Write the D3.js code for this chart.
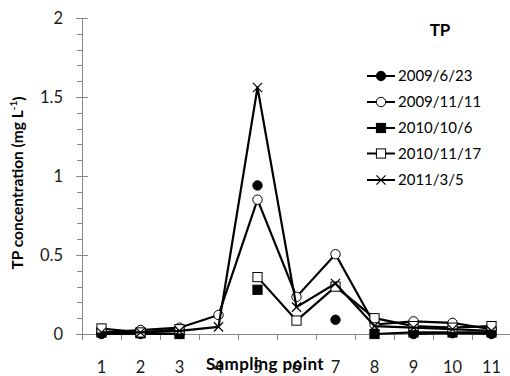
<!DOCTYPE html>
<html>
<head>
<meta charset="utf-8">
<script src="https://cdn.jsdelivr.net/npm/d3@7"></script>
<style>
  html, body { margin: 0; padding: 0; background: #fff; }
  svg { display: block; font-family: Lato, "Open Sans", sans-serif; }
</style>
</head>
<body>
<div id="chart"></div>
<script>
const categories = ["1", "2", "3", "4", "5", "6", "7", "8", "9", "10", "11"];
const seriesNames = ["2009/6/23", "2009/11/11", "2010/10/6", "2010/11/17", "2011/3/5"];
const s20090623 = [0.0, 0.0, 0.0, null, 0.94, null, 0.09, null, 0.0, 0.005, 0.0];
const s20091111 = [0.01, 0.025, 0.04, 0.12, 0.85, 0.235, 0.505, 0.06, 0.08, 0.07, 0.03];
const s20101006 = [0.01, 0.005, 0.0, null, 0.28, null, null, 0.0, 0.01, 0.01, 0.01];
const s20101117 = [0.035, 0.01, 0.03, null, 0.36, 0.085, 0.30, 0.10, 0.05, 0.04, 0.05];
const s20110305 = [0.01, 0.01, 0.02, 0.045, 1.56, 0.17, 0.32, 0.05, 0.04, 0.03, 0.02];
const markerTypes = ["filledCircle", "openCircle", "filledSquare", "openSquare", "cross"];
const yTicks = [0, 0.5, 1, 1.5, 2];
const yMinorTicks = [0.1, 0.2, 0.3, 0.4, 0.6, 0.7, 0.8, 0.9, 1.1, 1.2, 1.3, 1.4, 1.6, 1.7, 1.8, 1.9];
const yTickLabels = ["0", "0.5", "1", "1.5", "2"];

const seriesValues = [s20090623, s20091111, s20101006, s20101117, s20110305];

const W = 510, H = 376;
const svg = d3.select("#chart").append("svg").attr("width", W).attr("height", H);

const x = d3.scaleBand().domain(categories).range([82, 511]).paddingInner(0).paddingOuter(0);
const y = d3.scaleLinear().domain([0, 2]).range([334, 18]);
const axisColor = "#898989";

// Y axis
const gy = svg.append("g");
gy.append("line").attr("x1", 82.5).attr("x2", 82.5).attr("y1", y(2)).attr("y2", y(0))
  .attr("stroke", axisColor).attr("stroke-width", 1);
gy.selectAll(".maj").data(yTicks).join("line")
  .attr("x1", 76).attr("x2", 88).attr("y1", d => Math.round(y(d)) + 0.5).attr("y2", d => Math.round(y(d)) + 0.5)
  .attr("stroke", axisColor);
gy.selectAll(".min").data(yMinorTicks).join("line")
  .attr("x1", 77).attr("x2", 82).attr("y1", d => Math.round(y(d)) + 0.5).attr("y2", d => Math.round(y(d)) + 0.5)
  .attr("stroke", axisColor);
gy.selectAll("text").data(yTicks).join("text")
  .attr("x", 63).attr("y", d => y(d)).attr("dy", "0.35em")
  .attr("text-anchor", "end").attr("font-size", 16.5).attr("fill", "#1a1a1a")
  .text((d, i) => yTickLabels[i]);

// X axis
const gx = svg.append("g");
gx.append("line").attr("x1", 82).attr("x2", 511).attr("y1", 334.5).attr("y2", 334.5)
  .attr("stroke", axisColor);
const bounds = categories.map(c => x(c)).concat([x(categories[categories.length - 1]) + x.bandwidth()]);
gx.selectAll(".tk").data(bounds).join("line")
  .attr("x1", d => Math.round(d) + 0.5).attr("x2", d => Math.round(d) + 0.5)
  .attr("y1", 334).attr("y2", 340).attr("stroke", axisColor);
gx.selectAll("text").data(categories).join("text")
  .attr("x", d => x(d) + x.bandwidth() / 2).attr("y", 367).attr("dy", "0.35em")
  .attr("text-anchor", "middle").attr("font-size", 16.5).attr("fill", "#1a1a1a")
  .text(d => d);

// Axis titles
svg.append("text").attr("x", 265).attr("y", 364).attr("dy", "0.35em")
  .attr("text-anchor", "middle").attr("font-size", 17).attr("font-weight", "bold")
  .attr("letter-spacing", 0.4).attr("fill", "#000").text("Sampling point");

const yt = svg.append("text").attr("transform", "translate(18,183) rotate(-90)")
  .attr("text-anchor", "middle").attr("dy", "0.35em")
  .attr("font-size", 15.5).attr("font-weight", "bold").attr("fill", "#000");
yt.append("tspan").text("TP concentration (mg L");
yt.append("tspan").attr("font-size", 10).attr("dy", "-0.6em").text("-1");
yt.append("tspan").attr("font-size", 15.5).attr("dy", "0.4em").text(")");

// Markers
function drawMarker(g, type, cx, cy) {
  const r = 4.7, s = 4.6;
  if (type === "filledCircle" || type === "openCircle") {
    g.append("circle").attr("cx", cx).attr("cy", cy).attr("r", r)
      .attr("fill", type === "filledCircle" ? "#000" : "#fff").attr("stroke", "#000").attr("stroke-width", 1);
  } else if (type === "filledSquare" || type === "openSquare") {
    g.append("rect").attr("x", cx - s).attr("y", cy - s).attr("width", 2 * s).attr("height", 2 * s)
      .attr("fill", type === "filledSquare" ? "#000" : "#fff").attr("stroke", "#000").attr("stroke-width", 1);
  } else {
    g.append("path").attr("d", `M${cx - s},${cy - s}L${cx + s},${cy + s}M${cx - s},${cy + s}L${cx + s},${cy - s}`)
      .attr("stroke", "#000").attr("stroke-width", 1.2).attr("fill", "none");
  }
}

const line = d3.line()
  .defined(d => d.v !== null)
  .x(d => x(d.c) + x.bandwidth() / 2)
  .y(d => y(d.v));

seriesValues.forEach((vals, si) => {
  const g = svg.append("g");
  const pts = categories.map((c, i) => ({ c, v: vals[i] }));
  g.append("path").attr("d", line(pts)).attr("fill", "none")
    .attr("stroke", "#000").attr("stroke-width", 2.2).attr("stroke-linejoin", "round");
  pts.filter(p => p.v !== null).forEach(p => drawMarker(g, markerTypes[si], x(p.c) + x.bandwidth() / 2, y(p.v)));
});

// Legend
svg.append("text").attr("x", 440).attr("y", 30).attr("dy", "0.35em").attr("text-anchor", "middle")
  .attr("font-size", 17).attr("font-weight", "bold").attr("fill", "#000").text("TP");
const legendY = [76, 102, 128, 153.5, 180];
seriesNames.forEach((name, i) => {
  const g = svg.append("g");
  const ly = legendY[i];
  g.append("line").attr("x1", 367).attr("x2", 395).attr("y1", ly).attr("y2", ly)
    .attr("stroke", "#000").attr("stroke-width", 2);
  drawMarker(g, markerTypes[i], 381, ly);
  g.append("text").attr("x", 398).attr("y", ly).attr("dy", "0.35em")
    .attr("font-size", 15).attr("fill", "#000").text(name);
});
</script>
</body>
</html>
